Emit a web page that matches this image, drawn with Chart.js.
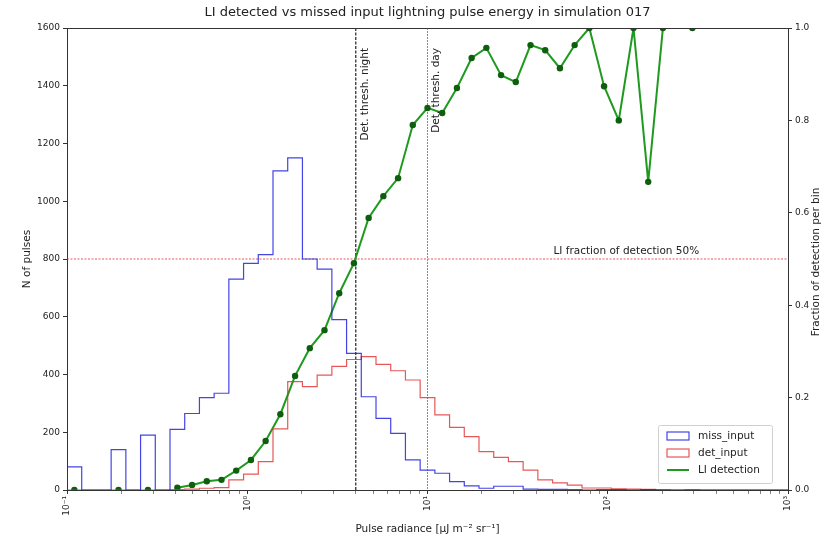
<!DOCTYPE html>
<html>
<head>
<meta charset="utf-8">
<script src="https://cdn.jsdelivr.net/npm/chart.js@4.4.1/dist/chart.umd.min.js"></script>
<style>
  html, body { margin: 0; padding: 0; background: #fff; }
  #wrap { width: 825px; height: 540px; }
</style>
</head>
<body>
<div id="wrap"><canvas id="chart" width="825" height="540"></canvas></div>
<script>
// bin edges (log spaced, 10^-1 .. 10^3, uJ m-2 sr-1)
const BIN_EDGES = [0.1, 0.12068, 0.14563, 0.17575, 0.2121, 0.25595, 0.30888, 0.37276, 0.44984, 0.54287,
  0.65513, 0.7906, 0.9541, 1.1514, 1.3895, 1.6768, 2.0236, 2.4421, 2.9471, 3.5565,
  4.2919, 5.1795, 6.2506, 7.5431, 9.103, 10.985, 13.257, 15.999, 19.307, 23.3,
  28.118, 33.932, 40.949, 49.417, 59.636, 71.969, 86.851, 104.81, 126.49, 152.64,
  184.21, 222.3, 268.27, 323.75, 390.69, 471.49, 568.99, 686.65, 828.64, 1000];

const MISS_INPUT = [80, 0, 0, 140, 0, 190, 0, 210, 265, 320,
  335, 730, 785, 815, 1105, 1150, 800, 765, 590, 473,
  323, 248, 196, 104, 69, 58, 29, 14, 6, 13,
  13, 3, 2, 2, 1, 0, 1, 1, 0, 1,
  0, 0, 0, 0, 0, 0, 0, 0, 0];

const DET_INPUT = [0, 0, 0, 0, 0, 0, 0, 1, 3, 6,
  8, 35, 55, 98, 212, 375, 358, 398, 428, 452,
  462, 435, 413, 381, 320, 260, 217, 185, 133, 113,
  98, 69, 35, 25, 17, 7, 7, 4, 3, 2,
  1, 0, 1, 0, 0, 0, 0, 0, 0];

const LI_DETECTION = [0, null, null, 0, null, 0, null, 0.005, 0.011, 0.019,
  0.022, 0.042, 0.065, 0.106, 0.164, 0.247, 0.307, 0.346, 0.426, 0.491,
  0.589, 0.636, 0.675, 0.79, 0.827, 0.816, 0.87, 0.935, 0.957, 0.898,
  0.883, 0.963, 0.952, 0.913, 0.963, 1.0, 0.874, 0.8, 1.0, 0.667,
  1.0, null, 1.0, null, null, null, null, null, null];

const X_TICKS = [0.1, 1, 10, 100, 1000];
const X_TICK_LABELS = ['10\u207B\u00B9', '10\u2070', '10\u00B9', '10\u00B2', '10\u00B3'];
const X_MINOR = [2, 3, 4, 5, 6, 7, 8, 9];
const Y_TICKS = [0, 200, 400, 600, 800, 1000, 1200, 1400, 1600];
const Y2_TICKS = [0, 0.2, 0.4, 0.6, 0.8, 1.0];

const THRESH_NIGHT = 4;
const THRESH_DAY = 10;
const HALF_LEVEL = 800;
const HALF_LABEL_X = 50;

const TITLE = 'LI detected vs missed input lightning pulse energy in simulation 017';
const FONT = '"DejaVu Sans", "Liberation Sans", sans-serif';
const INK = '#222';

const BLUE = 'rgba(35,35,225,0.85)';
const RED = 'rgba(225,45,45,0.8)';
const GREEN = '#1f9a1f';
const GREEN_DOT = '#0d5e0d';

// histogram outline as a step line: start at 0, one point per left edge, close at 0
function stepPoints(counts) {
  const pts = [{ x: BIN_EDGES[0], y: 0 }];
  counts.forEach((c, i) => pts.push({ x: BIN_EDGES[i], y: c }));
  pts.push({ x: BIN_EDGES[counts.length], y: 0 });
  return pts;
}

const detectionPoints = LI_DETECTION.map((v, i) => ({ x: Math.sqrt(BIN_EDGES[i] * BIN_EDGES[i + 1]), y: v }));
const xTickValues = X_TICKS.flatMap((d, i) => i < X_TICKS.length - 1 ? [d, ...X_MINOR.map(m => d * m)] : [d]);

const annotations = {
  id: 'annotations',
  beforeDatasetsDraw(chart) {
    const { ctx, chartArea: a, scales: { x, y } } = chart;
    ctx.save();
    const yh = y.getPixelForValue(HALF_LEVEL);
    ctx.strokeStyle = 'rgba(230,60,60,0.85)';
    ctx.lineWidth = 1;
    ctx.setLineDash([2, 1.5]);
    ctx.beginPath(); ctx.moveTo(a.left, yh); ctx.lineTo(a.right, yh); ctx.stroke();

    const xn = x.getPixelForValue(THRESH_NIGHT);
    ctx.strokeStyle = '#222';
    ctx.lineWidth = 1.2;
    ctx.setLineDash([3, 1.5]);
    ctx.beginPath(); ctx.moveTo(xn, a.top); ctx.lineTo(xn, a.bottom); ctx.stroke();

    const xd = x.getPixelForValue(THRESH_DAY);
    ctx.strokeStyle = '#8a8a8a';
    ctx.lineWidth = 1;
    ctx.setLineDash([2, 1]);
    ctx.beginPath(); ctx.moveTo(xd, a.top); ctx.lineTo(xd, a.bottom); ctx.stroke();
    ctx.restore();
  },
  afterDraw(chart) {
    const { ctx, chartArea: a, scales: { x, y } } = chart;
    ctx.save();
    ctx.fillStyle = INK;

    // title
    ctx.font = `13px ${FONT}`;
    ctx.textAlign = 'center';
    ctx.textBaseline = 'middle';
    ctx.fillText(TITLE, (a.left + a.right) / 2, 13);

    // top spine
    ctx.strokeStyle = '#333';
    ctx.lineWidth = 1;
    ctx.beginPath(); ctx.moveTo(a.left, a.top + 0.5); ctx.lineTo(a.right, a.top + 0.5); ctx.stroke();

    ctx.font = `10.5px ${FONT}`;
    // threshold labels
    [[THRESH_NIGHT, 'Det. thresh. night'], [THRESH_DAY, 'Det. thresh. day']].forEach(([v, txt]) => {
      ctx.save();
      ctx.translate(x.getPixelForValue(v) + 9, a.top + 20);
      ctx.rotate(-Math.PI / 2);
      ctx.textAlign = 'right';
      ctx.textBaseline = 'middle';
      ctx.fillText(txt, 0, 0);
      ctx.restore();
    });

    // 50% label
    ctx.textAlign = 'left';
    ctx.textBaseline = 'bottom';
    ctx.fillText('LI fraction of detection 50%', x.getPixelForValue(HALF_LABEL_X), y.getPixelForValue(HALF_LEVEL) - 2);

    // right axis title
    ctx.save();
    ctx.translate(816, (a.top + a.bottom) / 2 + 3);
    ctx.rotate(-Math.PI / 2);
    ctx.textAlign = 'center';
    ctx.textBaseline = 'middle';
    ctx.fillText('Fraction of detection per bin', 0, 0);
    ctx.restore();

    // legend, lower right
    const lw = 114, lh = 58;
    const lx = a.right - lw - 16, ly = a.bottom - lh - 7;
    ctx.fillStyle = 'rgba(255,255,255,0.85)';
    ctx.strokeStyle = '#cfcfcf';
    ctx.lineWidth = 1;
    ctx.beginPath(); ctx.roundRect(lx + 0.5, ly + 0.5, lw, lh, 2); ctx.fill(); ctx.stroke();
    const rows = [['miss_input', BLUE, 'patch'], ['det_input', RED, 'patch'], ['LI detection', GREEN, 'line']];
    rows.forEach(([label, color, kind], k) => {
      const ry = ly + 11 + k * 17;
      if (kind === 'patch') {
        ctx.strokeStyle = color;
        ctx.lineWidth = 1.2;
        ctx.strokeRect(lx + 9, ry - 4, 22, 8);
      } else {
        ctx.strokeStyle = color;
        ctx.lineWidth = 2;
        ctx.beginPath(); ctx.moveTo(lx + 9, ry); ctx.lineTo(lx + 31, ry); ctx.stroke();
      }
      ctx.fillStyle = INK;
      ctx.textAlign = 'left';
      ctx.textBaseline = 'middle';
      ctx.fillText(label, lx + 40, ry);
    });
    ctx.restore();
  }
};

const tickFont = { family: FONT, size: 9 };
const labelFont = { family: FONT, size: 10.5 };

new Chart(document.getElementById('chart'), {
  type: 'line',
  data: {
    datasets: [
      { label: 'miss_input', data: stepPoints(MISS_INPUT), yAxisID: 'y', stepped: 'before',
        borderColor: BLUE, borderWidth: 1.2, pointRadius: 0, fill: false, clip: 0 },
      { label: 'det_input', data: stepPoints(DET_INPUT), yAxisID: 'y', stepped: 'before',
        borderColor: RED, borderWidth: 1.2, pointRadius: 0, fill: false, clip: 0 },
      { label: 'LI detection', data: detectionPoints, yAxisID: 'y1', spanGaps: false,
        borderColor: GREEN, borderWidth: 2, pointRadius: 3.2, pointBackgroundColor: GREEN_DOT,
        pointBorderColor: GREEN_DOT, pointBorderWidth: 0, tension: 0, fill: false, clip: 0 }
    ]
  },
  options: {
    responsive: false,
    animation: false,
    devicePixelRatio: 1,
    layout: { padding: { top: 28, left: 0, right: 0, bottom: 0 } },
    plugins: { legend: { display: false }, tooltip: { enabled: false }, title: { display: false } },
    scales: {
      x: {
        type: 'logarithmic', position: 'bottom', min: 0.1, max: 1000,
        afterBuildTicks: s => { s.ticks = xTickValues.map(v => ({ value: v, major: X_TICKS.includes(v) })); },
        afterFit: s => { s.height = 50; },
        ticks: { autoSkip: false, minRotation: 90, maxRotation: 90, padding: 2, font: tickFont, color: INK,
          callback: v => { const k = X_TICKS.indexOf(v); return k < 0 ? '' : X_TICK_LABELS[k]; } },
        grid: { drawOnChartArea: false, tickLength: 4, tickColor: '#333',
          tickWidth: c => (c.tick && c.tick.major) ? 1 : 0.6 },
        border: { color: '#333', width: 1 },
        title: { display: true, text: 'Pulse radiance [\u03BCJ m\u207B\u00B2 sr\u207B\u00B9]', font: labelFont, color: INK,
          padding: { top: 0, bottom: 4 } }
      },
      y: {
        position: 'left', min: 0, max: 1600,
        afterBuildTicks: s => { s.ticks = Y_TICKS.map(v => ({ value: v })); },
        afterFit: s => { s.width = 67; },
        ticks: { font: tickFont, color: INK, padding: 3, callback: v => String(v) },
        grid: { drawOnChartArea: false, tickLength: 4, tickColor: '#333' },
        border: { color: '#333', width: 1 },
        title: { display: true, text: 'N of pulses', font: labelFont, color: INK, padding: { top: 21, bottom: 0 } }
      },
      y1: {
        position: 'right', min: 0, max: 1,
        afterBuildTicks: s => { s.ticks = Y2_TICKS.map(v => ({ value: v })); },
        afterFit: s => { s.width = 37; },
        ticks: { font: tickFont, color: INK, padding: 3, callback: v => v.toFixed(1) },
        grid: { drawOnChartArea: false, tickLength: 4, tickColor: '#333' },
        border: { color: '#333', width: 1 }
      }
    }
  },
  plugins: [annotations]
});
</script>
</body>
</html>
